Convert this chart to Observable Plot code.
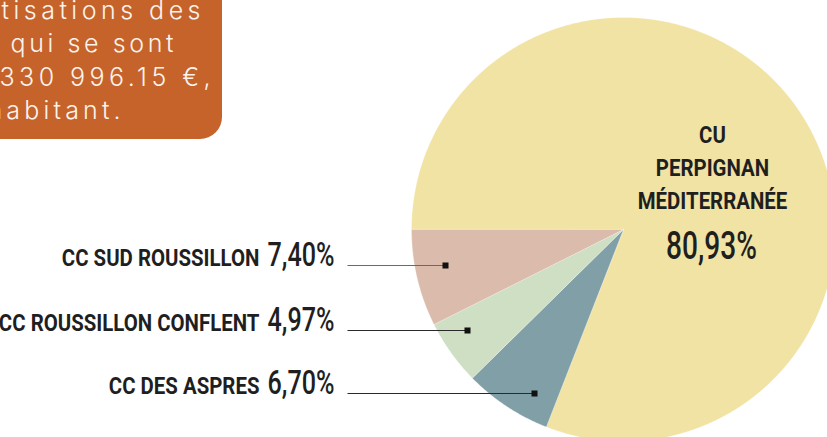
<!DOCTYPE html>
<html><head><meta charset="utf-8">
<script src="https://cdn.jsdelivr.net/npm/d3@7"></script>
<script src="https://cdn.jsdelivr.net/npm/@observablehq/plot@0.6"></script>
<style>html,body{margin:0;padding:0;overflow:hidden;background:#fff}#chart svg{display:block}</style>
</head><body><div id="chart"></div>
<script>
// ---- data ----
const names = ["CU PERPIGNAN MÉDITERRANÉE", "CC DES ASPRES", "CC ROUSSILLON CONFLENT", "CC SUD ROUSSILLON"];
const shares = [80.93, 6.70, 4.97, 7.40];
const sliceColors = ["#F1E3A3", "#819FA6", "#CFDFC3", "#DBBCAC"];
const noteLines = ["tisations des", "qui se sont", "330 996.15 €,", "habitant."];

// ---- layout ----
const W = 827, H = 437;
const cx = 623, cy = 229, R = 212;
const labelFont = "Roboto, 'Noto Sans', sans-serif";
const noteFont = "Inter, 'Open Sans', sans-serif";
const nameSize = 24, pctSize = 34, bigPctSize = 38, noteSize = 25;
const nameSqueeze = 0.85, pctSqueeze = 0.74;
const pctFmt = v => v.toFixed(2).replace(".", ",") + "%";

const arcs = d3.pie().sort(null).startAngle(-Math.PI / 2).endAngle(1.5 * Math.PI)(shares);
const poly = [];
arcs.forEach((a, i) => {
  const n = Math.max(2, Math.ceil((a.endAngle - a.startAngle) / 0.005));
  poly.push({name: names[i], x: cx, y: cy});
  for (let k = 0; k <= n; k++) {
    const t = a.startAngle + (a.endAngle - a.startAngle) * k / n;
    poly.push({name: names[i], x: cx + R * Math.sin(t), y: cy - R * Math.cos(t)});
  }
});

// left labels (small slices)
const leftIdx = [3, 2, 1];
const rowY = [265, 330, 393];
const dotX = [445, 467, 534];
const pctRight = 334, lineStart = 347;
const ctx = document.createElement("canvas").getContext("2d");
ctx.font = `500 ${pctSize}px ${labelFont}`;
const rows = leftIdx.map((i, k) => {
  const pct = pctFmt(shares[i]);
  const w = ctx.measureText(pct).width * pctSqueeze;
  return {name: names[i], pct, y: rowY[k], dx: dotX[k], nameX: pctRight - w - 8, grey: i === 3};
});

// note box text layout (line start and visible width)
const noteX = [1, 10, -1, -13];
const noteLen = [199, 163, 211, 133];
const noteY0 = 18, noteStep = 33.5;
ctx.font = `300 ${noteSize}px ${noteFont}`;
const noteSpacing = noteLines.map((s, i) => (noteLen[i] - ctx.measureText(s).width) / (s.length - 1));

const chart = Plot.plot({
  width: W, height: H, margin: 0,
  x: {domain: [0, W], range: [0, W], axis: null},
  y: {domain: [0, H], range: [0, H], axis: null},
  color: {domain: names, range: sliceColors},
  style: {background: "#fff"},
  marks: [
    // orange note box
    Plot.rect([0], {x1: -60, x2: 222, y1: -60, y2: 139, fill: "#C5632B", rx: 22}),
    Plot.text(noteLines, {
      x: (d, i) => noteX[i], y: (d, i) => noteY0 + i * noteStep, text: d => d,
      textAnchor: "start", lineAnchor: "bottom", fill: "#fbf3ec",
      fontFamily: noteFont, fontWeight: 300, fontSize: noteSize
    }),
    // pie slices
    Plot.line(poly, {x: "x", y: "y", z: "name", fill: "name", stroke: "#ffffff", strokeOpacity: 0.45, strokeWidth: 0.6, curve: "linear-closed"}),
    // leader lines
    Plot.link(rows, {x1: lineStart, x2: d => d.dx, y1: "y", y2: "y", stroke: d => d.grey ? "#6a6a6a" : "#2a2a2a", strokeWidth: 1.1}),
    Plot.dot(rows, {x: "dx", y: "y", symbol: "square", r: 3.4, fill: "#111", stroke: "none"}),
    // left labels
    Plot.text(rows, {x: "nameX", y: "y", text: "name", textAnchor: "end", lineAnchor: "bottom",
      fontFamily: labelFont, fontWeight: 700, fontSize: nameSize, fill: "#1f1f1f"}),
    Plot.text(rows, {x: pctRight, y: "y", text: "pct", textAnchor: "end", lineAnchor: "bottom",
      fontFamily: labelFont, fontWeight: 500, fontSize: pctSize, fill: "#1f1f1f"}),
    // big slice label
    Plot.text([names[0]], {x: 712, y: 208, text: d => d.replace(/ /g, "\n"), textAnchor: "middle", lineAnchor: "bottom",
      lineHeight: 1.36, fontFamily: labelFont, fontWeight: 700, fontSize: nameSize, fill: "#1f1f1f"}),
    Plot.text([shares[0]], {x: 711, y: 258, text: d => pctFmt(d), textAnchor: "middle", lineAnchor: "bottom",
      fontFamily: labelFont, fontWeight: 500, fontSize: bigPctSize, fill: "#1f1f1f"})
  ]
});

// typographic adjustments: spaced note lines, condensed labels
const tg = chart.querySelectorAll('g[aria-label="text"]');
tg[0].querySelectorAll("text").forEach((t, i) => {
  t.style.letterSpacing = `${noteSpacing[i].toFixed(2)}px`;
});
const squeeze = (g, s) => g.querySelectorAll("text").forEach(t => {
  t.setAttribute("transform", (t.getAttribute("transform") || "") + ` scale(${s},1)`);
});
squeeze(tg[1], nameSqueeze);
squeeze(tg[2], pctSqueeze);
squeeze(tg[3], nameSqueeze);
squeeze(tg[4], pctSqueeze);
document.getElementById("chart").appendChild(chart);
</script>
</body></html>
